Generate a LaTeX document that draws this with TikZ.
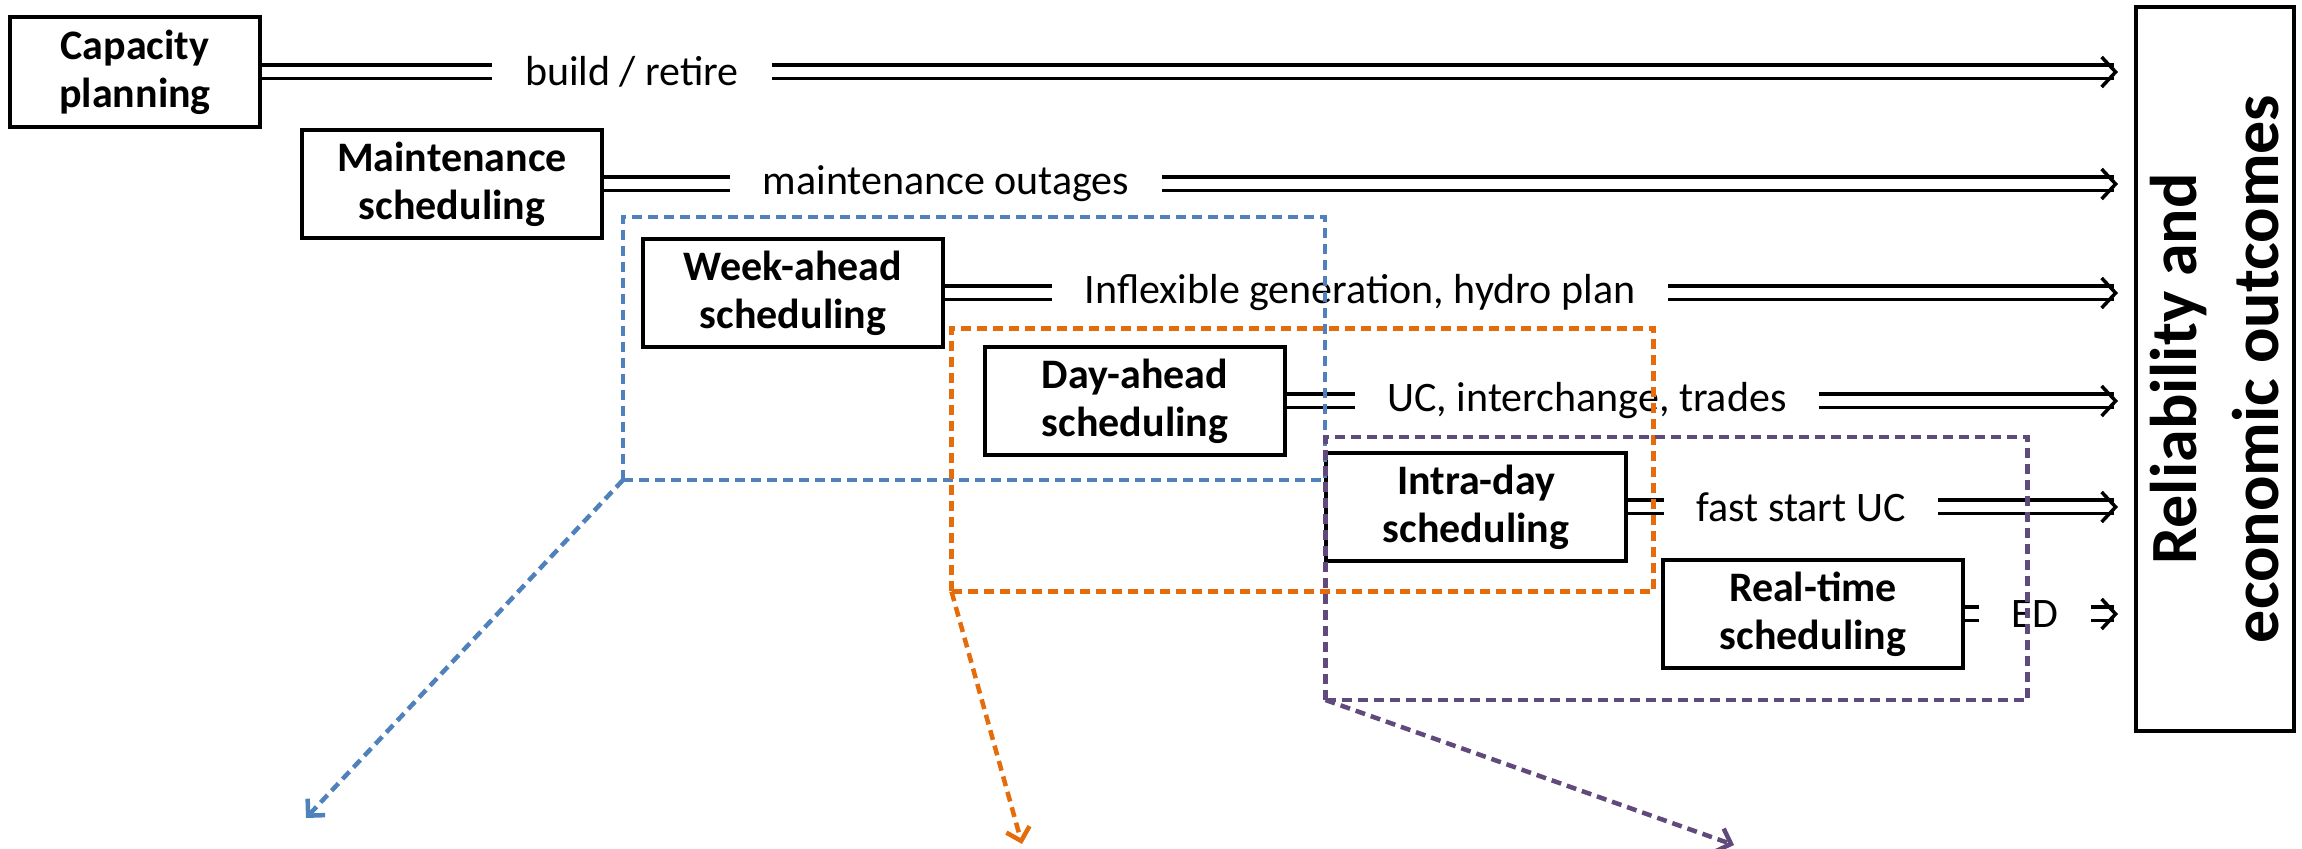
\documentclass[tikz,border=0pt]{standalone}
\usepackage{fontspec}
\setmainfont{Carlito}
\usetikzlibrary{arrows.meta}

\definecolor{wkblue}{RGB}{79,129,189}
\definecolor{daorange}{RGB}{228,108,10}
\definecolor{idpurple}{RGB}{96,74,123}

\tikzset{every picture/.style={line width=0.75pt}}
\tikzset{
  stage/.style={draw, line width=1.75pt, fill=white, minimum width=150pt, minimum height=54pt,
    align=center, inner sep=0pt, font=\bfseries\fontsize{21}{24}\selectfont},
  flowlab/.style={inner xsep=16pt, inner ysep=2pt, font=\fontsize{21}{24}\selectfont},
  dbl/.style={double, double distance=5pt, line width=1.75pt},
  dblarrow/.style={dbl, -{Straight Barb[length=7pt,width=15pt,line width=1.75pt 0]}},
  horizon/.style={draw, dash pattern=on 5pt off 3pt, line width=2.25pt, outer sep=0pt,
    minimum width=351pt, minimum height=131.5pt},
  horizarrow/.style={dash pattern=on 5pt off 3pt, line width=2.25pt, -{Straight Barb[length=6pt,width=12pt]}}
}

\begin{document}
\begin{tikzpicture}[x=0.5pt,y=0.5pt,yscale=-1,xscale=1]
\useasboundingbox (0,0) rectangle (2302,849);

% planning stages
\node[stage, minimum width=125pt, minimum height=55pt] (cap) at (135,72) {Capacity\\planning};
\node[stage] (maint) at (452,184) {Maintenance\\scheduling};
\node[stage] (week) at (793,293) {Week-ahead\\scheduling};
\node[stage] (day) at (1135,401) {Day-ahead\\scheduling};
\node[stage] (intra) at (1476,507) {Intra-day\\scheduling};
\node[stage] (real) at (1813,614) {Real-time\\scheduling};

% outcomes
\node[draw, line width=2pt, rotate=90, minimum width=362pt, minimum height=79pt, align=center,
  font=\bfseries\fontsize{33}{41}\selectfont] (outc) at (2215,369) {Reliability and\\economic outcomes};
\coordinate (tip) at (2118,0);

% decisions passed on
\node[flowlab] (lbuild) at (632,72) {build / retire};
\node[flowlab] (lmaint) at (946,184) {maintenance outages};
\node[flowlab] (lweek) at (1360,293) {Inflexible generation, hydro plan};
\node[flowlab] (lday) at (1587,401) {UC, interchange, trades};
\node[flowlab] (lintra) at (1801,507) {fast start UC};
\node[flowlab] (lreal) at (2035,614) {ED};

\draw[dbl] (cap.east) -- (lbuild.west);
\draw[dblarrow] (lbuild.east) -- (lbuild.east -| tip);
\draw[dbl] (maint.east) -- (lmaint.west);
\draw[dblarrow] (lmaint.east) -- (lmaint.east -| tip);
\draw[dbl] (week.east) -- (lweek.west);
\draw[dblarrow] (lweek.east) -- (lweek.east -| tip);
\draw[dbl] (day.east) -- (lday.west);
\draw[dblarrow] (lday.east) -- (lday.east -| tip);
\draw[dbl] (intra.east) -- (lintra.west);
\draw[dblarrow] (lintra.east) -- (lintra.east -| tip);
\draw[dbl] (real.east) -- (lreal.west);
\draw[dblarrow] (lreal.east) -- (lreal.east -| tip);

% scheduling horizons
\node[horizon, wkblue] (wkbox) at (974,348.5) {};
\node[horizon, daorange] (dabox) at (1302.5,460) {};
\node[horizon, idpurple] (idbox) at (1676.5,568.5) {};

\coordinate (wkend) at (306,818);
\coordinate (daend) at (1022,844);
\coordinate (idend) at (1734,845);
\draw[horizarrow, wkblue] (wkbox.south west) -- (wkend);
\draw[horizarrow, daorange] (dabox.south west) -- (daend);
\draw[horizarrow, idpurple] (idbox.south west) -- (idend);

\end{tikzpicture}
\end{document}
